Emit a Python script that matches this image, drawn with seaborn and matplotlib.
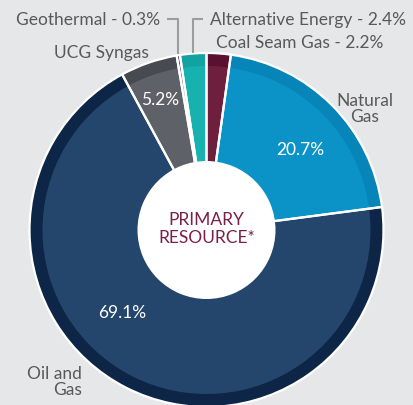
import numpy as np
import seaborn as sns
import matplotlib.pyplot as plt

# data
labels = ["Coal Seam Gas", "Natural Gas", "Oil and Gas", "UCG Syngas", "Geothermal", "Alternative Energy"]
shares = [2.2, 20.7, 69.1, 5.2, 0.3, 2.4]
main_colors = ["#6e1f3e", "#0b93c8", "#24466c", "#5e6268", "#5b4780", "#17b2b0"]
rim_colors = ["#5a1030", "#0784b8", "#0d2546", "#474a50", "#4a3570", "#12a3a1"]

sns.set_style("white")
plt.rcParams["font.family"] = ["Lato", "DejaVu Sans"]

bg = "#e6e7e9"
grey_txt = "#58595b"
fig = plt.figure(figsize=(4.14, 4.06), dpi=100, facecolor=bg)
ax = fig.add_axes([0, 0, 1, 1])
ax.set_facecolor(bg)

cx, cy = 206.5, 406 - 231
R = 177

# darker outer rim, then main body, then white separators
ax.pie(shares, colors=rim_colors, radius=R, center=(cx, cy),
       startangle=90, counterclock=False, wedgeprops=dict(linewidth=0))
ax.pie(shares, colors=main_colors, radius=R - 13, center=(cx, cy),
       startangle=90, counterclock=False, wedgeprops=dict(linewidth=0))
wedges, _ = ax.pie(shares, colors=["none"] * len(shares), radius=R, center=(cx, cy),
                   startangle=90, counterclock=False,
                   wedgeprops=dict(edgecolor="white", linewidth=1.6))
ax.pie([1], colors=["white"], radius=69, center=(cx, cy), wedgeprops=dict(linewidth=0))

# leader lines for the thin slices
line_c = "#9c9d9f"
for name, dx in [("Geothermal", -11), ("Alternative Energy", 10)]:
    w = wedges[labels.index(name)]
    mid = np.deg2rad((w.theta1 + w.theta2) / 2)
    x = cx + R * np.cos(mid)
    y_top = 406 - 20
    ax.plot([x, x, x + dx], [cy + R * np.sin(mid) + 1, y_top, y_top],
            color=line_c, lw=1.5, solid_capstyle="butt")

fs = 12.5
ax.text(160, 406 - 20, "Geothermal - 0.3%", ha="right", va="center", fontsize=fs, color=grey_txt)
ax.text(210, 406 - 20, "Alternative Energy - 2.4%", ha="left", va="center", fontsize=fs, color=grey_txt)
ax.text(216, 406 - 43, "Coal Seam Gas - 2.2%", ha="left", va="center", fontsize=fs, color=grey_txt)
ax.text(149, 406 - 53, "UCG Syngas", ha="right", va="center", fontsize=fs, color=grey_txt)
ax.text(365, 406 - 109, "Natural\nGas", ha="center", va="center", fontsize=fs, color=grey_txt,
        linespacing=0.95)
ax.text(82, 406 - 382, "Oil and\nGas", ha="right", va="center", fontsize=fs, color=grey_txt,
        linespacing=0.95)

ax.text(300, 406 - 150, "20.7%", ha="center", va="center", fontsize=fs, color="white")
ax.text(160, 406 - 100, "5.2%", ha="center", va="center", fontsize=fs, color="white")
ax.text(122, 406 - 313, "69.1%", ha="center", va="center", fontsize=fs, color="white")

ax.text(cx, cy + 2, "PRIMARY\nRESOURCE*", ha="center", va="center", fontsize=fs,
        color="#7a1f47", linespacing=1.15)

ax.set_xlim(0, 414)
ax.set_ylim(0, 406)
ax.set_aspect("equal")
ax.axis("off")

fig.savefig("out.png", dpi=100, facecolor=bg)
